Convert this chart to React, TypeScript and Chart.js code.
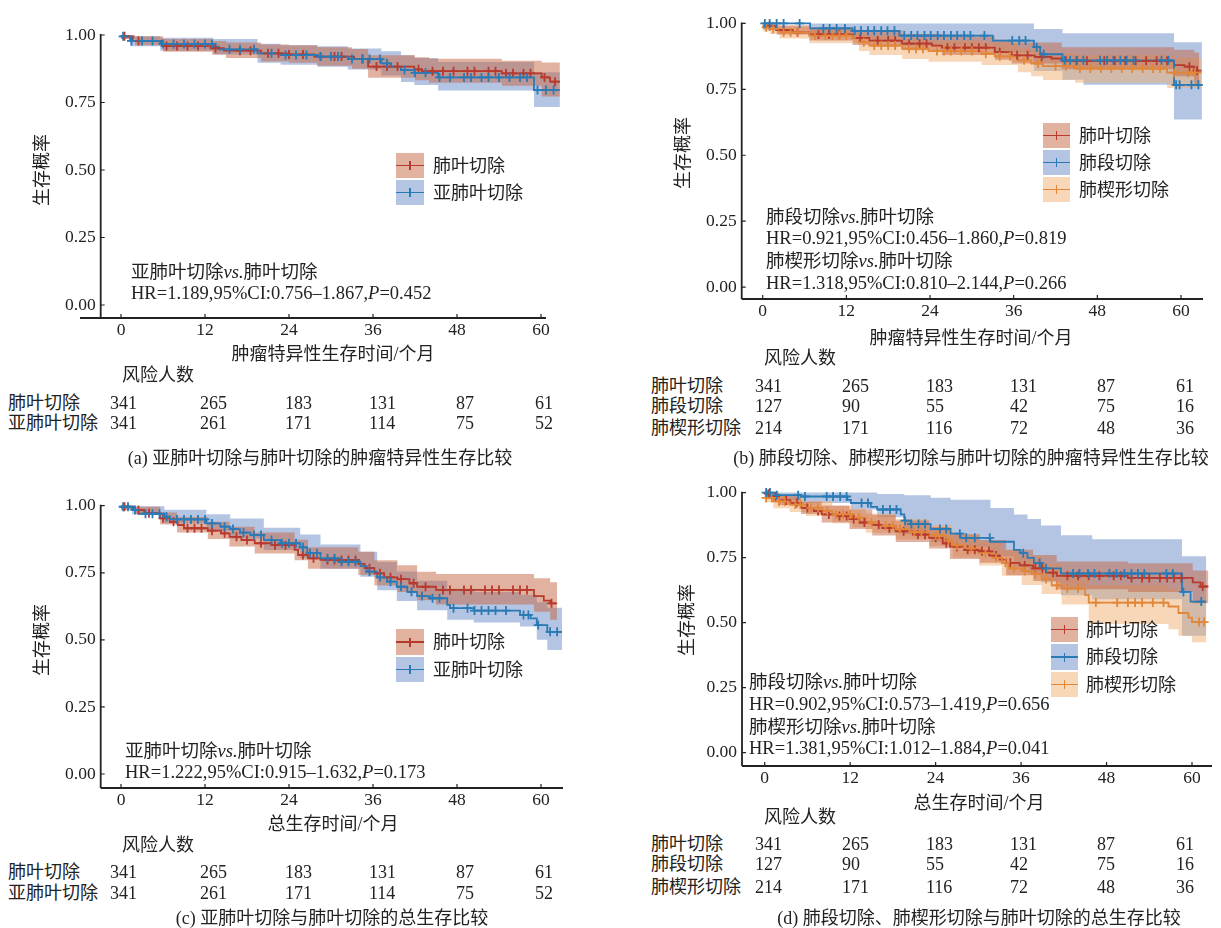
import React, { useEffect, useRef } from 'react';
import { Chart, registerables } from 'chart.js';
Chart.register(...registerables);

const FONT = '"Liberation Serif", "Noto Sans CJK SC", serif';
const INK = '#222222';
const RED = '#b8392d';
const BLUE = '#2a7ab6';
const ORANGE = '#e2873a';
const RED_BAND = 'rgba(197,101,65,0.5)';
const BLUE_BAND = 'rgba(105,139,201,0.5)';
const ORANGE_BAND = 'rgba(241,175,115,0.5)';
const RED_PATCH = '#e2b2a0';
const BLUE_PATCH = '#b4c5e4';
const ORANGE_PATCH = '#f8d7b9';

const xTickValues = [0, 12, 24, 36, 48, 60];
const yTickValues = [0, 0.25, 0.5, 0.75, 1];

// ---------- (a) CSS: lobectomy vs sublobar ----------
const aLobeT = [0, 1.7, 5.8, 12.8, 14.7, 20, 23.8, 27.6, 33.3, 35.3, 41.9, 43, 54.4, 60.1, 61.3, 62.7];
const aLobeS = [0.995, 0.978, 0.959, 0.951, 0.942, 0.932, 0.928, 0.92, 0.911, 0.883, 0.873, 0.866, 0.858, 0.843, 0.827, 0.827];
const aLobeBT = [0, 2, 6, 13, 15, 20, 24, 28, 33, 35.3, 42, 44, 54.4, 60.1, 62.7];
const aLobeHi = [1, 0.995, 0.985, 0.978, 0.972, 0.965, 0.962, 0.955, 0.948, 0.925, 0.918, 0.912, 0.905, 0.898, 0.898];
const aLobeLo = [0.985, 0.962, 0.938, 0.928, 0.915, 0.902, 0.897, 0.886, 0.875, 0.842, 0.832, 0.823, 0.812, 0.772, 0.772];
const aLobeC = [0.5, 2.5, 6.5, 8, 9.5, 11, 13.5, 17, 18.5, 21, 22.5, 24, 26, 28.5, 30.5, 31.5, 34.5, 36.5, 38, 39.5, 42.5, 44.5, 46, 47.5, 49.5, 50.5, 52.5, 53.5, 55, 56, 57.5, 58.5, 60.5, 62];

const aSubT = [0, 1.3, 5.6, 13.2, 14, 19.5, 22.8, 28.1, 32.4, 37.2, 38.6, 40, 41.9, 45.3, 59, 62.7];
const aSubS = [0.995, 0.978, 0.967, 0.957, 0.947, 0.932, 0.926, 0.92, 0.911, 0.895, 0.883, 0.87, 0.86, 0.843, 0.796, 0.796];
const aSubBT = [0, 1.3, 5.6, 13.2, 19.5, 22.8, 28.1, 32.4, 37.2, 40, 41.9, 45.3, 59, 62.7];
const aSubHi = [1, 0.995, 0.99, 0.985, 0.968, 0.962, 0.958, 0.95, 0.94, 0.925, 0.915, 0.9, 0.862, 0.862];
const aSubLo = [0.985, 0.958, 0.942, 0.928, 0.897, 0.89, 0.882, 0.872, 0.85, 0.826, 0.815, 0.794, 0.733, 0.733];
const aSubC = [0.3, 1.5, 3, 4.5, 6, 7.5, 9, 10.5, 12, 13, 15.5, 17, 19, 21.5, 23.5, 25, 26.5, 28.5, 30, 31, 33, 34.5, 35.5, 37, 38, 40.5, 42, 43.5, 45.5, 47, 49, 50, 51.5, 52.5, 54, 55.5, 57, 58, 59.5, 60.7, 61.8];

// ---------- (b) CSS: lobectomy vs segmentectomy vs wedge ----------
const bLobeT = [0, 1.9, 4.3, 6.7, 12.9, 15.3, 20, 24.3, 25.7, 33.3, 35.7, 39, 41.4, 42.9, 59, 60.5, 61.9, 62.6];
const bLobeS = [0.99, 0.975, 0.966, 0.958, 0.945, 0.935, 0.923, 0.916, 0.908, 0.891, 0.879, 0.873, 0.867, 0.858, 0.842, 0.836, 0.821, 0.821];
const bLobeBT = [0, 2, 6.7, 12.9, 20, 25.7, 33.3, 35.7, 42.9, 59, 61.9, 62.6];
const bLobeHi = [1, 0.993, 0.985, 0.975, 0.96, 0.95, 0.938, 0.928, 0.91, 0.9, 0.89, 0.89];
const bLobeLo = [0.978, 0.958, 0.935, 0.918, 0.898, 0.88, 0.862, 0.848, 0.826, 0.8, 0.765, 0.765];
const bLobeC = [1, 3, 5, 8, 9.5, 11, 14, 16.5, 18, 19, 21, 22.5, 23.5, 26.5, 27.5, 29, 30, 31, 32, 34, 36.5, 38, 40, 43.5, 45, 46.5, 49, 50.5, 52, 53.5, 55, 56.5, 58, 61.2, 62.3];

const bSegT = [0, 6.8, 12.9, 19.6, 33, 38.9, 39.8, 43, 59, 63];
const bSegS = [1, 0.981, 0.972, 0.954, 0.935, 0.91, 0.883, 0.86, 0.767, 0.767];
const bSegBT = [0, 6.8, 12.9, 19.6, 33, 38.9, 43, 46, 59, 63];
const bSegHi = [1, 1, 1, 1, 1, 0.979, 0.963, 0.963, 0.929, 0.929];
const bSegLo = [1, 0.955, 0.94, 0.915, 0.888, 0.82, 0.786, 0.767, 0.636, 0.636];
const bSegC = [0.3, 1, 2, 3, 5.3, 8.7, 9.6, 10.6, 11.8, 13.2, 14.1, 15.1, 16, 17, 17.9, 18.9, 20.3, 21.3, 22.2, 23.2, 24.1, 25.1, 26, 27, 27.9, 28.9, 29.8, 31.8, 35.8, 36.8, 37.7, 39.3, 40.3, 43.3, 44.1, 45.1, 46, 48.4, 49.4, 50.3, 51.3, 52.2, 53.2, 57.2, 58.2, 59.3, 59.8, 61.5, 62.5];

const bWedT = [0, 1, 2.4, 6.7, 12.9, 13.8, 15.3, 20, 23.8, 31.4, 33.3, 36.6, 38.5, 40.2, 44.8, 58, 62.9];
const bWedS = [0.985, 0.979, 0.966, 0.954, 0.945, 0.929, 0.916, 0.904, 0.895, 0.885, 0.875, 0.86, 0.848, 0.838, 0.829, 0.813, 0.813];
const bWedBT = [0, 1, 2.4, 6.7, 13.8, 15.3, 20, 23.8, 31.4, 36.6, 38.5, 40.2, 44.8, 58, 62.9];
const bWedHi = [1, 0.995, 0.988, 0.98, 0.962, 0.952, 0.942, 0.935, 0.928, 0.905, 0.895, 0.887, 0.88, 0.87, 0.87];
const bWedLo = [0.97, 0.96, 0.943, 0.925, 0.895, 0.88, 0.865, 0.855, 0.842, 0.815, 0.8, 0.785, 0.775, 0.755, 0.755];
const bWedC = [0.5, 1.5, 3, 4, 5, 7.5, 9, 10, 11, 12, 14.5, 16, 17, 18, 19, 21, 22, 23, 25, 26, 27, 28.5, 30, 32, 34, 35.5, 37.5, 39.5, 42, 43.5, 45.5, 47, 48.5, 50, 51.5, 53, 54.5, 56, 57, 59, 61, 62];

// ---------- (c) OS: lobectomy vs sublobar ----------
const cLobeT = [0, 1.8, 3.3, 5.6, 7, 8.1, 9, 12.4, 14.3, 15.5, 17.2, 19.1, 21.5, 24.8, 25.3, 26.7, 28.5, 33.9, 34.8, 36.2, 37.6, 39.5, 41.2, 42.3, 45, 59, 60.4, 61.3, 62.3];
const cLobeS = [0.996, 0.984, 0.972, 0.953, 0.94, 0.928, 0.916, 0.907, 0.897, 0.884, 0.872, 0.86, 0.853, 0.835, 0.816, 0.804, 0.798, 0.783, 0.767, 0.748, 0.733, 0.726, 0.711, 0.698, 0.686, 0.663, 0.646, 0.636, 0.636];
const cLobeBT = [0, 2, 5.6, 8, 12.4, 15.5, 19.1, 24.8, 26.7, 33.9, 36.2, 39.5, 42.3, 45, 59, 61.3, 62.3];
const cLobeHi = [1, 0.996, 0.975, 0.958, 0.94, 0.922, 0.9, 0.873, 0.845, 0.828, 0.797, 0.778, 0.754, 0.745, 0.73, 0.715, 0.715];
const cLobeLo = [0.985, 0.97, 0.93, 0.9, 0.876, 0.848, 0.822, 0.797, 0.765, 0.742, 0.703, 0.678, 0.648, 0.632, 0.605, 0.575, 0.575];
const cLobeC = [0.5, 2.5, 4, 6, 7.5, 9.5, 10.5, 11.5, 13, 14.8, 16.5, 18, 20, 22, 23.5, 26, 27.5, 29.5, 30.5, 31.5, 32.5, 33.5, 35.5, 37, 38.5, 40, 41.8, 43.5, 46, 47, 49, 50, 52, 53, 54, 56, 57, 58, 61.5];

const cSubT = [0, 1.6, 2.5, 6.2, 7, 12.2, 14.2, 15.6, 17, 18.5, 20.4, 22.8, 25.6, 26.6, 28.5, 31.3, 34.2, 35.1, 36.6, 38, 39.4, 40.9, 42.3, 44.2, 46.6, 47, 50.4, 57, 58.5, 59.4, 60.9, 63];
const cSubS = [0.996, 0.984, 0.97, 0.959, 0.949, 0.934, 0.922, 0.913, 0.9, 0.891, 0.872, 0.86, 0.845, 0.823, 0.804, 0.791, 0.775, 0.754, 0.733, 0.717, 0.698, 0.679, 0.663, 0.655, 0.63, 0.618, 0.609, 0.593, 0.58, 0.555, 0.53, 0.53];
const cSubBT = [0, 1.6, 6.2, 12.2, 15.6, 20.4, 25.6, 28.5, 34.2, 36.6, 39.4, 42.3, 46.6, 50.4, 57, 59.4, 60.9, 63];
const cSubHi = [1, 0.998, 0.985, 0.968, 0.952, 0.918, 0.893, 0.855, 0.828, 0.79, 0.755, 0.72, 0.69, 0.678, 0.668, 0.64, 0.62, 0.62];
const cSubLo = [0.985, 0.968, 0.935, 0.905, 0.878, 0.835, 0.805, 0.765, 0.735, 0.685, 0.645, 0.61, 0.575, 0.565, 0.55, 0.5, 0.462, 0.462];
const cSubC = [0.3, 1, 2, 3.5, 4.5, 5.5, 6.5, 8, 9, 10, 11, 12, 13, 14.8, 16, 17.5, 19, 20, 21.5, 23, 24, 25, 26, 27, 28, 29.5, 30.5, 31.5, 32.5, 33.5, 35.5, 37, 38.5, 40, 41.5, 43, 44.5, 45.5, 47.5, 49.5, 50.5, 51.5, 52.5, 53.5, 55, 57.5, 58.2, 59.6, 61.3, 62.3];

// ---------- (d) OS: lobectomy vs segmentectomy vs wedge ----------
const dLobeT = [0, 0.75, 2, 3.6, 5.1, 6.9, 8, 10, 11.9, 13.3, 15.1, 16.5, 18.4, 20.8, 23.1, 25, 26, 28, 30.2, 31.6, 33, 33.9, 35.8, 37.7, 39.5, 41, 51, 60.1, 61.2, 62.3];
const dLobeS = [0.996, 0.985, 0.97, 0.96, 0.941, 0.929, 0.916, 0.91, 0.898, 0.885, 0.876, 0.863, 0.851, 0.838, 0.826, 0.805, 0.792, 0.78, 0.774, 0.758, 0.742, 0.73, 0.72, 0.709, 0.692, 0.68, 0.672, 0.655, 0.639, 0.639];
const dLobeBT = [0, 2, 5.1, 8, 11.9, 15.1, 18.4, 23.1, 26, 30.2, 33.9, 37.7, 41, 51, 60.1, 62.3];
const dLobeHi = [1, 0.99, 0.965, 0.95, 0.935, 0.915, 0.893, 0.868, 0.84, 0.818, 0.78, 0.76, 0.735, 0.728, 0.7, 0.7];
const dLobeLo = [0.985, 0.952, 0.918, 0.885, 0.86, 0.835, 0.81, 0.785, 0.745, 0.73, 0.682, 0.66, 0.628, 0.618, 0.575, 0.575];
const dLobeC = [0.5, 1.5, 3, 4.5, 6, 7.5, 9, 10.5, 11.5, 12.5, 14, 16, 17.5, 19.5, 21.5, 22.5, 24, 25.5, 27, 28.5, 29.5, 30.5, 31.5, 32.5, 34.5, 36.5, 38, 39, 40.5, 42.5, 44, 45.5, 47, 49, 50, 51.5, 53, 54, 55.5, 56.5, 57.5, 58.5, 61.5];

const dSegT = [0, 1.6, 5.1, 11.6, 12.1, 14.9, 15.8, 19.1, 19.6, 20.5, 23.3, 26.1, 27.5, 31.7, 35, 35.9, 36.9, 37.8, 38.8, 41.6, 58.6, 59.8, 62];
const dSegS = [1, 0.99, 0.985, 0.972, 0.96, 0.945, 0.935, 0.916, 0.892, 0.879, 0.86, 0.842, 0.826, 0.811, 0.78, 0.767, 0.749, 0.73, 0.709, 0.689, 0.618, 0.581, 0.581];
const dSegBT = [0, 1.6, 5.1, 12.1, 15.8, 19.6, 23.3, 26.1, 31.7, 35, 36.9, 38.8, 41.6, 46, 58.6, 62];
const dSegHi = [1, 1, 1, 1, 0.995, 0.99, 0.98, 0.972, 0.941, 0.916, 0.898, 0.873, 0.836, 0.821, 0.755, 0.755];
const dSegLo = [1, 0.97, 0.96, 0.935, 0.905, 0.84, 0.81, 0.79, 0.755, 0.715, 0.69, 0.655, 0.605, 0.59, 0.45, 0.45];
const dSegC = [0.2, 0.74, 1.7, 4.7, 5.65, 8.7, 9.6, 10.6, 11.5, 13.6, 14.5, 16.6, 17.6, 18.5, 19.7, 20.6, 21.6, 22.5, 24.6, 25.5, 27.4, 28.3, 29.5, 31.6, 36.3, 38.6, 39.5, 43.3, 44.2, 45.4, 46.3, 48.4, 49.4, 50.5, 51.5, 52.4, 53.3, 56.4, 57.3, 58.8, 61.3];

const dWedT = [0, 1.2, 3.5, 5.8, 8.1, 9.5, 12.3, 14.2, 16.1, 18.4, 20.3, 23.1, 25.4, 26.4, 28, 30.1, 32, 33.3, 34.3, 36.1, 37.5, 38.9, 40.3, 41.7, 45, 45.5, 56.7, 58.1, 59.5, 60, 62];
const dWedS = [0.98, 0.966, 0.954, 0.941, 0.929, 0.916, 0.904, 0.885, 0.873, 0.86, 0.848, 0.835, 0.816, 0.797, 0.785, 0.767, 0.749, 0.73, 0.709, 0.699, 0.687, 0.668, 0.643, 0.631, 0.606, 0.577, 0.562, 0.537, 0.519, 0.502, 0.502];
const dWedBT = [0, 1.2, 3.5, 5.8, 9.5, 12.3, 14.2, 18.4, 23.1, 26.4, 30.1, 33.3, 36.1, 38.9, 41.7, 45.5, 56.7, 58.1, 60, 62];
const dWedHi = [0.995, 0.988, 0.978, 0.968, 0.948, 0.938, 0.92, 0.898, 0.875, 0.84, 0.812, 0.78, 0.755, 0.725, 0.695, 0.645, 0.63, 0.61, 0.585, 0.585];
const dWedLo = [0.962, 0.94, 0.925, 0.91, 0.882, 0.866, 0.846, 0.82, 0.795, 0.75, 0.72, 0.68, 0.645, 0.61, 0.57, 0.495, 0.475, 0.45, 0.425, 0.425];
const dWedC = [0.2, 1, 2, 2.8, 4.3, 5, 6.5, 7.5, 8.8, 10, 11, 12, 13.2, 15, 17, 18, 19, 21, 22, 24, 24.5, 25.8, 27, 29, 31, 32.5, 33.8, 35, 36.5, 38, 39.5, 41, 42.5, 44, 46.5, 49.5, 51, 52, 53, 54.5, 56, 61, 61.7];

// ---------- risk tables ----------
const riskLobe = [341, 265, 183, 131, 87, 61];
const riskSub = [341, 261, 171, 114, 75, 52];
const riskSeg = [127, 90, 55, 42, 75, 16];
const riskWed = [214, 171, 116, 72, 48, 36];

// ---------- statistics text ----------
const hrA = ['1.189', '0.756', '1.867', '0.452'];
const hrBseg = ['0.921', '0.456', '1.860', '0.819'];
const hrBwed = ['1.318', '0.810', '2.144', '0.266'];
const hrC = ['1.222', '0.915', '1.632', '0.173'];
const hrDseg = ['0.902', '0.573', '1.419', '0.656'];
const hrDwed = ['1.381', '1.012', '1.884', '0.041'];

type Series = { t: number[]; s: number[]; c: number[]; bt: number[]; lo: number[]; hi: number[]; color: string; band: string; bandOrder: number };
type Panel = { left: number; top: number; width: number; height: number; areaL: number; areaT: number; areaR: number; areaB: number; x0: number; x60: number; y1: number; y0: number; xLineFrom: number; xLineTo: number };

function stepAt(t: number, T: number[], S: number[]) {
  let v = S[0];
  for (let i = 0; i < T.length; i++) {
    if (T[i] <= t) v = S[i];
    else break;
  }
  return v;
}

function buildDatasets(series: Series[]) {
  const ds: any[] = [];
  series.forEach((se) => {
    ds.push({ data: se.bt.map((x, i) => ({ x, y: se.hi[i] })), stepped: true, borderWidth: 0, borderColor: 'rgba(0,0,0,0)', pointRadius: 0, backgroundColor: se.band, fill: '+1', order: se.bandOrder });
    ds.push({ data: se.bt.map((x, i) => ({ x, y: se.lo[i] })), stepped: true, borderWidth: 0, borderColor: 'rgba(0,0,0,0)', pointRadius: 0, fill: false, order: se.bandOrder });
  });
  series.forEach((se) => {
    ds.push({ data: se.t.map((x, i) => ({ x, y: se.s[i] })), stepped: true, borderColor: se.color, borderWidth: 1.8, pointRadius: 0, fill: false, order: 2 });
    ds.push({ data: se.c.map((x) => ({ x, y: stepAt(x, se.t, se.s) })), showLine: false, pointStyle: 'cross', pointRadius: 4.5, pointBorderWidth: 1.8, borderColor: se.color, backgroundColor: se.color, fill: false, order: 1, clip: 10 });
  });
  return ds;
}

function KMChart({ p, series }: { p: Panel; series: Series[] }) {
  const ref = useRef<HTMLCanvasElement>(null);
  useEffect(() => {
    const ppm = (p.x60 - p.x0) / 60;
    const xmin = (p.areaL - p.x0) / ppm;
    const xmax = (p.areaR - p.x0) / ppm;
    const ppu = p.y0 - p.y1;
    const ymax = 1 + (p.y1 - p.areaT) / ppu;
    const ymin = -(p.areaB - p.y0) / ppu;
    const yW = p.areaL - p.left;
    const xH = p.top + p.height - p.areaB;
    const axisPlugin = {
      id: 'kmAxes',
      afterDraw(chart: any) {
        const { ctx, chartArea, scales } = chart;
        const x = scales.x, y = scales.y;
        const L = chartArea.left, B = chartArea.bottom;
        ctx.save();
        ctx.strokeStyle = INK;
        ctx.lineWidth = 1.8;
        ctx.beginPath();
        ctx.moveTo(L, y.getPixelForValue(1) - 0.9);
        ctx.lineTo(L, B);
        ctx.moveTo(p.xLineFrom - p.left, B);
        ctx.lineTo(p.xLineTo - p.left, B);
        ctx.stroke();
        ctx.lineWidth = 1.2;
        ctx.beginPath();
        xTickValues.forEach((v) => {
          const px = x.getPixelForValue(v);
          ctx.moveTo(px, B);
          ctx.lineTo(px, B - 4);
        });
        yTickValues.forEach((v) => {
          const py = y.getPixelForValue(v);
          ctx.moveTo(L, py);
          ctx.lineTo(L + 4, py);
        });
        ctx.stroke();
        ctx.restore();
      },
    };
    const chart = new Chart(ref.current as HTMLCanvasElement, {
      type: 'line',
      data: { datasets: buildDatasets(series) },
      options: {
        animation: false,
        responsive: false,
        events: [],
        layout: { padding: { left: 0, top: p.areaT - p.top, right: p.left + p.width - p.areaR, bottom: 0 } },
        plugins: { legend: { display: false }, tooltip: { enabled: false } },
        scales: {
          x: {
            type: 'linear',
            min: xmin,
            max: xmax,
            grid: { display: false, drawTicks: false },
            border: { display: false },
            afterBuildTicks: (s: any) => { s.ticks = xTickValues.map((v) => ({ value: v })); },
            afterFit: (s: any) => { s.height = xH; },
            ticks: { color: INK, font: { family: FONT, size: 17.5 }, padding: 2, maxRotation: 0, callback: (v: any) => String(v) },
          },
          y: {
            type: 'linear',
            min: ymin,
            max: ymax,
            grid: { display: false, drawTicks: false },
            border: { display: false },
            afterBuildTicks: (s: any) => { s.ticks = yTickValues.map((v) => ({ value: v })); },
            afterFit: (s: any) => { s.width = yW; },
            ticks: { color: INK, font: { family: FONT, size: 17.5 }, padding: 5, callback: (v: any) => Number(v).toFixed(2) },
          },
        },
      } as any,
      plugins: [axisPlugin],
    });
    return () => chart.destroy();
  }, []);
  return (
    <div style={{ position: 'absolute', left: p.left, top: p.top, width: p.width, height: p.height }}>
      <canvas ref={ref} width={p.width} height={p.height} />
    </div>
  );
}

function Txt({ x, y, center = false, size = 18, rot = false, children }: any) {
  const tx = center || rot ? '-50%' : '0';
  return (
    <div style={{ position: 'absolute', left: x, top: y, transform: `translate(${tx},-50%)${rot ? ' rotate(-90deg)' : ''}`, fontFamily: FONT, fontSize: size, lineHeight: 1, color: INK, whiteSpace: 'nowrap' }}>
      {children}
    </div>
  );
}

function LegendItem({ x, top, w, h, patch, line, label, textX }: any) {
  return (
    <>
      <div style={{ position: 'absolute', left: x, top, width: w, height: h, background: patch }}>
        <div style={{ position: 'absolute', left: 0, top: h / 2 - 0.9, width: w, height: 1.8, background: line }} />
        <div style={{ position: 'absolute', left: w / 2 - 0.9, top: h / 2 - 4.5, width: 1.8, height: 9, background: line }} />
      </div>
      <Txt x={textX} y={top + h / 2}>{label}</Txt>
    </>
  );
}

const Cmp = ({ a, b }: any) => (<>{a}<i>vs.</i>{b}</>);
const Hr = ({ v }: any) => (<>HR={v[0]},95%CI:{v[1]}–{v[2]},<i>P</i>={v[3]}</>);

function RiskRow({ label, labelX, xs, y, values }: any) {
  return (
    <>
      <Txt x={labelX} y={y}>{label}</Txt>
      {values.map((v: number, i: number) => (<Txt key={i} x={xs[i]} y={y}>{v}</Txt>))}
    </>
  );
}

const panelA: Panel = { left: 0, top: 0, width: 590, height: 345, areaL: 100.7, areaT: 28, areaR: 563, areaB: 318, x0: 121, x60: 541, y1: 35, y0: 305, xLineFrom: 80, xLineTo: 546 };
const panelB: Panel = { left: 620, top: 0, width: 601, height: 330, areaL: 741.7, areaT: 12, areaR: 1204, areaB: 299, x0: 762.7, x60: 1181, y1: 20, y0: 287, xLineFrom: 741.7, xLineTo: 1203 };
const panelC: Panel = { left: 0, top: 470, width: 590, height: 345, areaL: 100.7, areaT: 498, areaR: 564, areaB: 788, x0: 121, x60: 541, y1: 505.7, y0: 774, xLineFrom: 100.7, xLineTo: 563 };
const panelD: Panel = { left: 620, top: 470, width: 601, height: 330, areaL: 742, areaT: 477, areaR: 1214, areaB: 766, x0: 764.7, x60: 1192, y1: 484.3, y0: 752.3, xLineFrom: 742, xLineTo: 1212 };

const seriesA: Series[] = [
  { t: aSubT, s: aSubS, c: aSubC, bt: aSubBT, lo: aSubLo, hi: aSubHi, color: BLUE, band: BLUE_BAND, bandOrder: 12 },
  { t: aLobeT, s: aLobeS, c: aLobeC, bt: aLobeBT, lo: aLobeLo, hi: aLobeHi, color: RED, band: RED_BAND, bandOrder: 10 },
];
const seriesB: Series[] = [
  { t: bSegT, s: bSegS, c: bSegC, bt: bSegBT, lo: bSegLo, hi: bSegHi, color: BLUE, band: BLUE_BAND, bandOrder: 12 },
  { t: bWedT, s: bWedS, c: bWedC, bt: bWedBT, lo: bWedLo, hi: bWedHi, color: ORANGE, band: ORANGE_BAND, bandOrder: 11 },
  { t: bLobeT, s: bLobeS, c: bLobeC, bt: bLobeBT, lo: bLobeLo, hi: bLobeHi, color: RED, band: RED_BAND, bandOrder: 10 },
];
const seriesC: Series[] = [
  { t: cSubT, s: cSubS, c: cSubC, bt: cSubBT, lo: cSubLo, hi: cSubHi, color: BLUE, band: BLUE_BAND, bandOrder: 12 },
  { t: cLobeT, s: cLobeS, c: cLobeC, bt: cLobeBT, lo: cLobeLo, hi: cLobeHi, color: RED, band: RED_BAND, bandOrder: 10 },
];
const seriesD: Series[] = [
  { t: dSegT, s: dSegS, c: dSegC, bt: dSegBT, lo: dSegLo, hi: dSegHi, color: BLUE, band: BLUE_BAND, bandOrder: 12 },
  { t: dWedT, s: dWedS, c: dWedC, bt: dWedBT, lo: dWedLo, hi: dWedHi, color: ORANGE, band: ORANGE_BAND, bandOrder: 11 },
  { t: dLobeT, s: dLobeS, c: dLobeC, bt: dLobeBT, lo: dLobeLo, hi: dLobeHi, color: RED, band: RED_BAND, bandOrder: 10 },
];

const riskXLeft = [110, 200, 285, 369, 456, 535];
const riskXRight = [755, 842, 926, 1010, 1097, 1176];

export default function App() {
  return (
    <div style={{ position: 'absolute', left: 0, top: 0, width: 1221, height: 928, background: '#fff', overflow: 'hidden' }}>
      <KMChart p={panelA} series={seriesA} />
      <KMChart p={panelB} series={seriesB} />
      <KMChart p={panelC} series={seriesC} />
      <KMChart p={panelD} series={seriesD} />

      {/* Panel (a) */}
      <Txt x={42} y={170} rot>生存概率</Txt>
      <Txt x={333} y={354} center>肿瘤特异性生存时间/个月</Txt>
      <LegendItem x={396} top={153} w={28} h={25} patch={RED_PATCH} line={RED} label="肺叶切除" textX={433} />
      <LegendItem x={396} top={180} w={28} h={25} patch={BLUE_PATCH} line={BLUE} label="亚肺叶切除" textX={433} />
      <Txt x={131} y={272} size={18.5}><Cmp a="亚肺叶切除" b="肺叶切除" /></Txt>
      <Txt x={131} y={293} size={18.5}><Hr v={hrA} /></Txt>
      <Txt x={122} y={375}>风险人数</Txt>
      <RiskRow label="肺叶切除" labelX={8} xs={riskXLeft} y={403} values={riskLobe} />
      <RiskRow label="亚肺叶切除" labelX={8} xs={riskXLeft} y={423} values={riskSub} />
      <Txt x={320} y={458} center>(a) 亚肺叶切除与肺叶切除的肿瘤特异性生存比较</Txt>

      {/* Panel (b) */}
      <Txt x={683} y={153} rot>生存概率</Txt>
      <Txt x={971} y={338} center>肿瘤特异性生存时间/个月</Txt>
      <LegendItem x={1043} top={123} w={27} h={25} patch={RED_PATCH} line={RED} label="肺叶切除" textX={1079} />
      <LegendItem x={1043} top={150} w={27} h={25} patch={BLUE_PATCH} line={BLUE} label="肺段切除" textX={1079} />
      <LegendItem x={1043} top={177} w={27} h={25} patch={ORANGE_PATCH} line={ORANGE} label="肺楔形切除" textX={1079} />
      <Txt x={766} y={217} size={18.5}><Cmp a="肺段切除" b="肺叶切除" /></Txt>
      <Txt x={766} y={238} size={18.5}><Hr v={hrBseg} /></Txt>
      <Txt x={766} y={261} size={18.5}><Cmp a="肺楔形切除" b="肺叶切除" /></Txt>
      <Txt x={766} y={283} size={18.5}><Hr v={hrBwed} /></Txt>
      <Txt x={764} y={358}>风险人数</Txt>
      <RiskRow label="肺叶切除" labelX={651} xs={riskXRight} y={386} values={riskLobe} />
      <RiskRow label="肺段切除" labelX={651} xs={riskXRight} y={406} values={riskSeg} />
      <RiskRow label="肺楔形切除" labelX={651} xs={riskXRight} y={428} values={riskWed} />
      <Txt x={971} y={458} center>(b) 肺段切除、肺楔形切除与肺叶切除的肿瘤特异性生存比较</Txt>

      {/* Panel (c) */}
      <Txt x={42} y={640} rot>生存概率</Txt>
      <Txt x={333} y={824} center>总生存时间/个月</Txt>
      <LegendItem x={396} top={629} w={28} h={26} patch={RED_PATCH} line={RED} label="肺叶切除" textX={433} />
      <LegendItem x={396} top={657} w={28} h={25} patch={BLUE_PATCH} line={BLUE} label="亚肺叶切除" textX={433} />
      <Txt x={125} y={751} size={18.5}><Cmp a="亚肺叶切除" b="肺叶切除" /></Txt>
      <Txt x={125} y={772} size={18.5}><Hr v={hrC} /></Txt>
      <Txt x={122} y={845}>风险人数</Txt>
      <RiskRow label="肺叶切除" labelX={8} xs={riskXLeft} y={872} values={riskLobe} />
      <RiskRow label="亚肺叶切除" labelX={8} xs={riskXLeft} y={893} values={riskSub} />
      <Txt x={332} y={918} center>(c) 亚肺叶切除与肺叶切除的总生存比较</Txt>

      {/* Panel (d) */}
      <Txt x={687} y={620} rot>生存概率</Txt>
      <Txt x={979} y={803} center>总生存时间/个月</Txt>
      <LegendItem x={1051} top={617} w={27} h={25} patch={RED_PATCH} line={RED} label="肺叶切除" textX={1086} />
      <LegendItem x={1051} top={644} w={27} h={26} patch={BLUE_PATCH} line={BLUE} label="肺段切除" textX={1086} />
      <LegendItem x={1051} top={672} w={27} h={25} patch={ORANGE_PATCH} line={ORANGE} label="肺楔形切除" textX={1086} />
      <Txt x={749} y={682} size={18.5}><Cmp a="肺段切除" b="肺叶切除" /></Txt>
      <Txt x={749} y={704} size={18.5}><Hr v={hrDseg} /></Txt>
      <Txt x={749} y={727} size={18.5}><Cmp a="肺楔形切除" b="肺叶切除" /></Txt>
      <Txt x={749} y={748} size={18.5}><Hr v={hrDwed} /></Txt>
      <Txt x={764} y={817}>风险人数</Txt>
      <RiskRow label="肺叶切除" labelX={651} xs={riskXRight} y={844} values={riskLobe} />
      <RiskRow label="肺段切除" labelX={651} xs={riskXRight} y={864} values={riskSeg} />
      <RiskRow label="肺楔形切除" labelX={651} xs={riskXRight} y={887} values={riskWed} />
      <Txt x={979} y={918} center>(d) 肺段切除、肺楔形切除与肺叶切除的总生存比较</Txt>
    </div>
  );
}
